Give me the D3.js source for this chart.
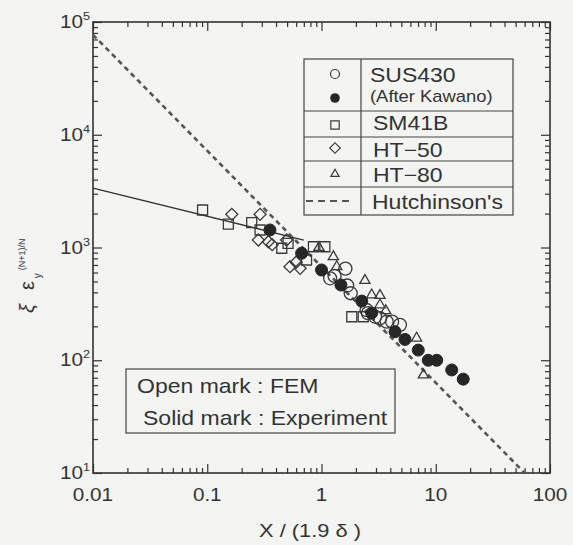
<!DOCTYPE html>
<html>
<head>
<meta charset="utf-8">
<script src="https://cdn.jsdelivr.net/npm/d3@7"></script>
<style>
  body { margin: 0; background: #f4f4f3; }
  svg { display: block; font-family: "Liberation Sans", Arial, sans-serif; }
</style>
</head>
<body>
<svg></svg>
<script>
const width = 573;
const height = 545;
const plot = {left: 93, right: 550, top: 22, bottom: 473};
const ink = "#333";
const stretchX = 1.15; // les textes du scan sont un peu élargis

// Graduations
const xTickValues = [0.01, 0.1, 1, 10, 100];
const xTickLabels = ["0.01", "0.1", "1", "10", "100"];
const yTickValues = [10, 100, 1000, 10000, 100000];
const yTickExponents = ["1", "2", "3", "4", "5"];

// Séries : [X/(1.9δ), ξ ε_y^((N+1)/N)]
const sus430Fem = [[1.19, 533], [1.3, 560], [1.62, 650], [1.68, 460], [1.8, 393], [2.48, 279], [2.55, 262],
                   [2.95, 243], [3.25, 236], [3.72, 220], [4.15, 220], [4.86, 206]];
const sus430Exp = [[0.354, 1430], [0.67, 890], [1.0, 632], [1.48, 465], [2.25, 335], [2.75, 262], [4.4, 179],
                   [5.38, 153], [7.03, 123], [8.6, 100], [10.2, 100], [13.8, 82], [17.4, 68]];
const sm41b = [[0.091, 2150], [0.153, 1610], [0.245, 1660], [0.29, 1430], [0.449, 985], [0.51, 1090],
               [0.74, 775], [0.85, 1015], [1.07, 1015], [1.84, 243], [2.32, 243]];
const ht50 = [[0.164, 1970], [0.29, 1970], [0.28, 1166], [0.343, 1124], [0.37, 1060], [0.495, 1165],
              [0.53, 676], [0.6, 740], [0.65, 653]];
const ht80 = [[0.95, 1000], [1.27, 828], [1.36, 676], [2.4, 510], [2.75, 380], [3.25, 375], [3.25, 310],
              [3.65, 275], [6.8, 157], [7.8, 74]];
const hutchinson = [[0.01, 77000], [60, 10]];
const fitLine = [[0.01, 3370], [0.7, 1165]];

const legendLabels = ["SUS430", "(After Kawano)", "SM41B", "HT\u221250", "HT\u221280", "Hutchinson's"];
const noteLabels = ["Open mark : FEM", "Solid mark : Experiment"];

const svg = d3.select("svg")
    .attr("width", width)
    .attr("height", height)
    .attr("viewBox", [0, 0, width, height]);

svg.append("rect").attr("width", width).attr("height", height).attr("fill", "#f4f4f3");

const x = d3.scaleLog().domain([0.01, 100]).range([plot.left, plot.right]);
const y = d3.scaleLog().domain([10, 1e5]).range([plot.bottom, plot.top]);

// texte élargi horizontalement
function stretched(parent, px, py, size, str, anchor = "start") {
    return parent.append("text")
        .attr("transform", `translate(${px},${py}) scale(${stretchX},1)`)
        .attr("font-size", size)
        .attr("text-anchor", anchor)
        .attr("fill", ink)
        .text(str);
}

// Graduations intérieures sur les quatre côtés
const isMajor = v => Math.abs(Math.log10(v) - Math.round(Math.log10(v))) < 1e-9;
const xAll = x.ticks(), yAll = y.ticks();
function tickAxis(axisFn, scale, values, size, transform) {
    svg.append("g")
        .attr("transform", transform)
        .call(axisFn(scale).tickValues(values).tickSize(size).tickFormat(""))
        .call(g => g.select(".domain").remove())
        .call(g => g.selectAll("line").attr("stroke", ink).attr("stroke-width", 1.2));
}
const xMaj = xAll.filter(isMajor), xMin = xAll.filter(v => !isMajor(v));
const yMaj = yAll.filter(isMajor), yMin = yAll.filter(v => !isMajor(v));
tickAxis(d3.axisBottom, x, xMaj, -9, `translate(0,${plot.bottom})`);
tickAxis(d3.axisBottom, x, xMin, -5, `translate(0,${plot.bottom})`);
tickAxis(d3.axisTop, x, xMaj, -9, `translate(0,${plot.top})`);
tickAxis(d3.axisTop, x, xMin, -5, `translate(0,${plot.top})`);
tickAxis(d3.axisLeft, y, yMaj, -9, `translate(${plot.left},0)`);
tickAxis(d3.axisLeft, y, yMin, -5, `translate(${plot.left},0)`);
tickAxis(d3.axisRight, y, yMaj, -9, `translate(${plot.right},0)`);
tickAxis(d3.axisRight, y, yMin, -5, `translate(${plot.right},0)`);

svg.append("rect")
    .attr("x", plot.left).attr("y", plot.top)
    .attr("width", plot.right - plot.left).attr("height", plot.bottom - plot.top)
    .attr("fill", "none").attr("stroke", ink).attr("stroke-width", 1.6);

// Étiquettes des axes
xTickValues.forEach((v, i) => stretched(svg, x(v), 501, 18, xTickLabels[i], "middle"));
yTickValues.forEach((v, i) => {
    const t = stretched(svg, 90, y(v) + 6, 18, null, "end");
    t.append("tspan").text("10");
    t.append("tspan").attr("font-size", 11).attr("dy", -8).text(yTickExponents[i]);
});

stretched(svg, 310, 537, 19, "X / (1.9 \u03b4 )", "middle");

const yLabel = svg.append("text")
    .attr("transform", "translate(34,313) rotate(-90)")
    .attr("fill", ink)
    .attr("font-size", 20);
yLabel.append("tspan").attr("font-style", "italic").text("\u03be");
yLabel.append("tspan").attr("dx", 14).text("\u03b5");
yLabel.append("tspan").attr("font-size", 10).attr("dx", 3).attr("dy", 7).text("y");
yLabel.append("tspan").attr("font-size", 9).attr("dx", 3).attr("dy", -16).text("(N+1)/N");

// Droites
const line = d3.line().x(d => x(d[0])).y(d => y(d[1]));
const plotArea = svg.append("g");
plotArea.append("path").datum(fitLine).attr("d", line)
    .attr("fill", "none").attr("stroke", ink).attr("stroke-width", 1.3);
plotArea.append("path").datum(hutchinson).attr("d", line)
    .attr("fill", "none").attr("stroke", "#555").attr("stroke-width", 2.6).attr("stroke-dasharray", "5,4");

// Marqueurs
const markStroke = "#3a3a3a";
const shapes = {
    square: {type: d3.symbolSquare, size: 100, rot: 0},
    diamond: {type: d3.symbolSquare, size: 72, rot: 45},
    triangle: {type: d3.symbolTriangle, size: 45, rot: 0}
};
function drawSymbols(data, shape) {
    const s = shapes[shape];
    plotArea.append("g").selectAll("path").data(data).join("path")
        .attr("d", d3.symbol().type(s.type).size(s.size))
        .attr("transform", d => `translate(${x(d[0])},${y(d[1])}) rotate(${s.rot})`)
        .attr("fill", "none").attr("stroke", markStroke).attr("stroke-width", 1.3);
}
drawSymbols(sm41b, "square");
drawSymbols(ht50, "diamond");
drawSymbols(ht80, "triangle");
plotArea.append("g").selectAll("circle").data(sus430Fem).join("circle")
    .attr("cx", d => x(d[0])).attr("cy", d => y(d[1])).attr("r", 6.5)
    .attr("fill", "none").attr("stroke", markStroke).attr("stroke-width", 1.3);
plotArea.append("g").selectAll("circle").data(sus430Exp).join("circle")
    .attr("cx", d => x(d[0])).attr("cy", d => y(d[1])).attr("r", 6)
    .attr("fill", "#262626").attr("stroke", "#262626");

// Légende
const lg = svg.append("g");
const lgBox = {x0: 304, x1: 513, y0: 59, y1: 215, mid: 361};
const rowLines = [111, 137, 161, 187];
lg.append("rect").attr("x", lgBox.x0).attr("y", lgBox.y0)
    .attr("width", lgBox.x1 - lgBox.x0).attr("height", lgBox.y1 - lgBox.y0)
    .attr("fill", "none").attr("stroke", "#444").attr("stroke-width", 1.2);
lg.append("line").attr("x1", lgBox.mid).attr("x2", lgBox.mid).attr("y1", lgBox.y0).attr("y2", lgBox.y1)
    .attr("stroke", "#444").attr("stroke-width", 1.2);
rowLines.forEach(ry => lg.append("line").attr("x1", lgBox.x0).attr("x2", lgBox.x1)
    .attr("y1", ry).attr("y2", ry).attr("stroke", "#444").attr("stroke-width", 1.2));

const sx = 335;
lg.append("circle").attr("cx", sx).attr("cy", 74).attr("r", 4.5)
    .attr("fill", "none").attr("stroke", markStroke).attr("stroke-width", 1.2);
lg.append("circle").attr("cx", sx).attr("cy", 98).attr("r", 4.8).attr("fill", "#262626");
[["square", 125, 70], ["diamond", 148, 55], ["triangle", 174, 30]].forEach(([k, cy, size]) => {
    lg.append("path")
        .attr("d", d3.symbol().type(shapes[k].type).size(size))
        .attr("transform", `translate(${sx},${cy}) rotate(${shapes[k].rot})`)
        .attr("fill", "none").attr("stroke", markStroke).attr("stroke-width", 1.2);
});
lg.append("line").attr("x1", 306).attr("x2", 351).attr("y1", 201).attr("y2", 201)
    .attr("stroke", "#555").attr("stroke-width", 1.8).attr("stroke-dasharray", "7,5");

stretched(lg, 370, 82, 20, legendLabels[0]);
stretched(lg, 370, 102, 16, legendLabels[1]);
stretched(lg, 373, 130, 20, legendLabels[2]);
stretched(lg, 373, 157, 20, legendLabels[3]);
stretched(lg, 373, 182, 20, legendLabels[4]);
stretched(lg, 372, 209, 20, legendLabels[5]);

// Encadré des notes
const note = svg.append("g");
note.append("rect").attr("x", 126).attr("y", 369).attr("width", 269).attr("height", 64)
    .attr("fill", "none").attr("stroke", "#444").attr("stroke-width", 1.2);
stretched(note, 137, 393, 20, noteLabels[0]);
stretched(note, 143, 425, 20, noteLabels[1]);
</script>
</body>
</html>
